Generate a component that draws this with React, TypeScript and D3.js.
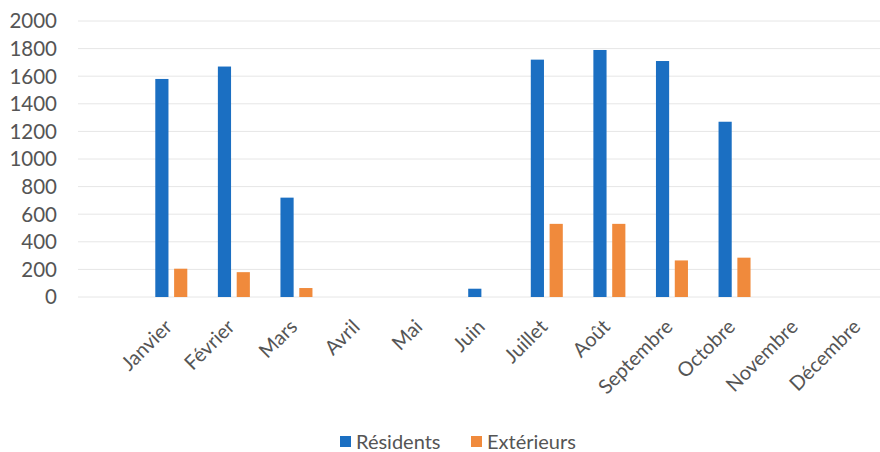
import React from "react";
import * as d3 from "d3";

const months = ["Janvier", "Février", "Mars", "Avril", "Mai", "Juin", "Juillet", "Août", "Septembre", "Octobre", "Novembre", "Décembre"];
const residents = [1580, 1670, 720, 0, 0, 60, 1720, 1790, 1710, 1270, 0, 0];
const exterieurs = [205, 180, 65, 0, 0, 0, 530, 530, 265, 285, 0, 0];
const seriesNames = ["Résidents", "Extérieurs"];
const seriesColors = ["#1b6fc2", "#f08a3c"];
const yTicks = [0, 200, 400, 600, 800, 1000, 1200, 1400, 1600, 1800, 2000];

const W = 880;
const H = 452;
const FONT = "Lato, 'Open Sans', sans-serif";
const TEXT = "#555";

export default function App() {
  const y = d3.scaleLinear().domain([0, 2000]).range([297, 21]);
  const x0 = d3.scaleBand<string>().domain(months).range([140, 891]).paddingInner(0).paddingOuter(0);
  const groupW = 32;
  const x1 = d3
    .scaleBand<string>()
    .domain(seriesNames)
    .range([x0.bandwidth() / 2 - groupW / 2, x0.bandwidth() / 2 + groupW / 2])
    .paddingInner(0.3)
    .paddingOuter(0);
  const data = [residents, exterieurs];

  return (
    <svg width={W} height={H} style={{ position: "absolute", left: 0, top: 0, background: "#fff" }}>
      <g>
        {yTicks.map((t) => (
          <line key={"g" + t} x1={78} x2={880} y1={y(t)} y2={y(t)} stroke="#e6e6e6" strokeWidth={1} />
        ))}
        {yTicks.map((t) => (
          <text key={"t" + t} x={57} y={y(t)} dy="0.36em" textAnchor="end" fontFamily={FONT} fontSize={20.5} fill={TEXT}>
            {t}
          </text>
        ))}
      </g>
      <g>
        {months.map((m, i) => (
          <g key={m} transform={`translate(${x0(m)},0)`}>
            {seriesNames.map((s, j) => {
              const v = data[j][i];
              if (!v) return null;
              return (
                <rect key={s} x={x1(s)} y={y(v)} width={x1.bandwidth()} height={y(0) - y(v)} fill={seriesColors[j]} />
              );
            })}
          </g>
        ))}
      </g>
      <g>
        {months.map((m) => {
          const cx = (x0(m) as number) + x0.bandwidth() / 2 - 8;
          const cy = 318;
          return (
            <text
              key={m}
              transform={`translate(${cx},${cy}) rotate(-45)`}
              textAnchor="end"
              dy="0.71em"
              fontFamily={FONT}
              fontSize={20}
              fill={TEXT}
            >
              {m}
            </text>
          );
        })}
      </g>
      <g>
        <rect x={340} y={436} width={11} height={11} fill={seriesColors[0]} />
        <text x={356} y={441.5} dy="0.36em" fontFamily={FONT} fontSize={20} fill={TEXT}>
          {seriesNames[0]}
        </text>
        <rect x={471} y={436} width={11} height={11} fill={seriesColors[1]} />
        <text x={487} y={441.5} dy="0.36em" fontFamily={FONT} fontSize={20} fill={TEXT}>
          {seriesNames[1]}
        </text>
      </g>
    </svg>
  );
}
